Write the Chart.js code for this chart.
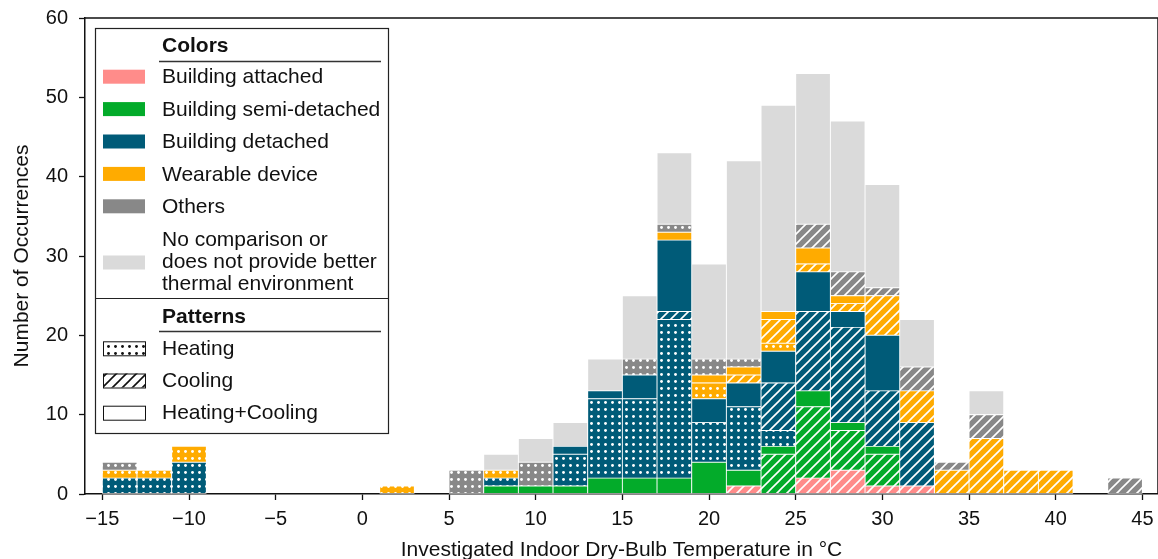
<!DOCTYPE html>
<html>
<head>
<meta charset="utf-8">
<script src="https://cdn.jsdelivr.net/npm/chart.js@4.4.1/dist/chart.umd.min.js"></script>
<style>
  body { margin: 0; background: #fff; }
  canvas { display: block; }
</style>
</head>
<body>
<canvas id="histChart" width="1158" height="559"></canvas>
<script>
// --- DATA: 2 °C bins, from -15 to 45 ---
const binCenters = [-14, -12, -10, -8, -6, -4, -2, 0, 2, 4, 6, 8, 10, 12, 14, 16, 18, 20, 22, 24, 26, 28, 30, 32, 34, 36, 38, 40, 42, 44];
const xTicks = [-15, -10, -5, 0, 5, 10, 15, 20, 25, 30, 35, 40, 45];
const yTicks = [0, 10, 20, 30, 40, 50, 60];

const attachedHeating  = [0,0,0,0,0,0,0,0,0,0, 0,0,0,0,0,0,0,0,0,0, 0,0,0,0,0,0,0,0,0,0];
const attachedCooling  = [0,0,0,0,0,0,0,0,0,0, 0,0,0,0,0,0,0,0,1,0, 2,3,1,1,0,0,0,0,0,0];
const attachedBoth     = [0,0,0,0,0,0,0,0,0,0, 0,0,0,0,0,0,0,0,0,0, 0,0,0,0,0,0,0,0,0,0];
const semiHeating      = [0,0,0,0,0,0,0,0,0,0, 0,0,0,0,0,0,0,0,0,0, 0,0,0,0,0,0,0,0,0,0];
const semiCooling      = [0,0,0,0,0,0,0,0,0,0, 0,0,0,0,0,0,0,0,0,5, 9,5,4,0,0,0,0,0,0,0];
const semiBoth         = [0,0,0,0,0,0,0,0,0,0, 0,1,1,1,2,2,2,4,2,1, 2,1,1,0,0,0,0,0,0,0];
const detachedHeating  = [2,2,4,0,0,0,0,0,0,0, 0,1,0,4,10,10,20,5,8,2, 0,0,0,0,0,0,0,0,0,0];
const detachedCooling  = [0,0,0,0,0,0,0,0,0,0, 0,0,0,0,0,0,1,0,0,6, 10,12,7,8,0,0,0,0,0,0];
const detachedBoth     = [0,0,0,0,0,0,0,0,0,0, 0,0,0,1,1,3,9,3,3,4, 5,2,7,0,0,0,0,0,0,0];
const wearableHeating  = [1,1,2,0,0,0,0,0,1,0, 0,1,0,0,0,0,0,2,0,1, 0,0,0,0,0,0,0,0,0,0];
const wearableCooling  = [0,0,0,0,0,0,0,0,0,0, 0,0,0,0,0,0,0,0,1,3, 1,1,5,4,3,7,3,3,0,0];
const wearableBoth     = [0,0,0,0,0,0,0,0,0,0, 0,0,0,0,0,0,1,1,1,1, 2,1,0,0,0,0,0,0,0,0];
const othersHeating    = [1,0,0,0,0,0,0,0,0,0, 3,0,3,0,0,2,1,2,1,0, 0,0,0,0,0,0,0,0,0,0];
const othersCooling    = [0,0,0,0,0,0,0,0,0,0, 0,0,0,0,0,0,0,0,0,0, 3,3,1,3,1,3,0,0,0,2];
const othersBoth       = [0,0,0,0,0,0,0,0,0,0, 0,0,0,0,0,0,0,0,0,0, 0,0,0,0,0,0,0,0,0,0];
const noComparison     = [0,0,0,0,0,0,0,0,0,0, 0,2,3,3,4,8,9,12,25,26, 19,19,13,6,0,3,0,0,0,0];

const colorNames = ['Building attached', 'Building semi-detached', 'Building detached', 'Wearable device', 'Others'];
const noCompName = ['No comparison or', 'does not provide better', 'thermal environment'];
const patternNames = ['Heating', 'Cooling', 'Heating+Cooling'];

// couleurs
const colorHex = ['#ff8c8a', '#03ab2a', '#005b78', '#ffab00', '#888888'];
const noCompHex = '#dadada';

const FONT = "'Liberation Sans', Arial, sans-serif";
Chart.defaults.font.family = FONT;
Chart.defaults.font.size = 20;
Chart.defaults.color = '#111';

const canvas = document.getElementById('histChart');
const ctx = canvas.getContext('2d');

// tuile de motif : points ou hachures
function makePattern(bg, kind, ink) {
    const s = kind === 'dots' ? 7 : 10;
    const t = document.createElement('canvas');
    t.width = s; t.height = s;
    const g = t.getContext('2d');
    g.fillStyle = bg;
    g.fillRect(0, 0, s, s);
    g.fillStyle = ink;
    g.strokeStyle = ink;
    if (kind === 'dots') {
        g.beginPath();
        g.arc(s / 2, s / 2, 1.45, 0, Math.PI * 2);
        g.fill();
    } else if (kind === 'hatch') {
        g.lineWidth = 1.6;
        g.beginPath();
        g.moveTo(-1, s + 1); g.lineTo(s + 1, -1);
        g.moveTo(-s / 2 - 1, s / 2 + 1); g.lineTo(s / 2 + 1, -s / 2 - 1);
        g.moveTo(s / 2 - 1, s * 1.5 + 1); g.lineTo(s * 1.5 + 1, s / 2 - 1);
        g.stroke();
    }
    return ctx.createPattern(t, 'repeat');
}

const series = [
    [attachedHeating, attachedCooling, attachedBoth],
    [semiHeating, semiCooling, semiBoth],
    [detachedHeating, detachedCooling, detachedBoth],
    [wearableHeating, wearableCooling, wearableBoth],
    [othersHeating, othersCooling, othersBoth]
];
const kinds = ['dots', 'hatch', 'none'];

function toPoints(values) {
    return binCenters.map((c, i) => ({ x: c, y: values[i] || null }));
}

const datasets = [];
series.forEach((group, ci) => {
    group.forEach((values, pi) => {
        datasets.push({
            label: colorNames[ci] + ' - ' + patternNames[pi],
            data: toPoints(values),
            backgroundColor: makePattern(colorHex[ci], kinds[pi], '#ffffff')
        });
    });
});
datasets.push({
    label: noCompName.join(' '),
    data: toPoints(noComparison),
    backgroundColor: noCompHex
});
datasets.forEach(d => {
    d.borderColor = '#ffffff';
    d.borderWidth = 0.8;
    d.borderSkipped = false;
    d.categoryPercentage = 1;
    d.barPercentage = 1;
    d.stack = 'all';
});

const fmtTick = v => v < 0 ? '\u2212' + Math.abs(v) : String(v);

// --- cadre + légende dessinés à la main ---
const legendPlugin = {
    id: 'frameLegend',
    afterDraw(chart) {
        const c = chart.ctx;
        const a = chart.chartArea;
        c.save();
        c.strokeStyle = '#111';
        c.lineWidth = 1.5;
        c.beginPath();
        c.moveTo(a.left, a.top); c.lineTo(a.right, a.top); c.lineTo(a.right, a.bottom);
        c.stroke();

        // boîte
        c.fillStyle = '#fff';
        c.fillRect(95, 28, 293, 405);
        c.strokeStyle = '#222';
        c.lineWidth = 1.2;
        c.strokeRect(95.5, 28.5, 293, 405);
        c.beginPath();
        c.moveTo(95, 298.5); c.lineTo(388, 298.5);
        c.stroke();

        c.textBaseline = 'middle';
        c.textAlign = 'left';
        c.fillStyle = '#111';
        c.font = 'bold 21px ' + FONT;
        c.fillText('Colors', 162, 46);
        c.fillText('Patterns', 162, 317);
        c.strokeStyle = '#333';
        c.lineWidth = 1.3;
        c.beginPath();
        c.moveTo(159, 61.5); c.lineTo(381, 61.5);
        c.moveTo(159, 331.5); c.lineTo(381, 331.5);
        c.stroke();

        c.font = '21px ' + FONT;
        colorNames.forEach((name, i) => {
            const yc = 76.7 + i * 32.4;
            c.fillStyle = colorHex[i];
            c.fillRect(103, yc - 7, 42, 14);
            c.fillStyle = '#111';
            c.fillText(name, 162, yc + 1);
        });
        c.fillStyle = noCompHex;
        c.fillRect(103, 255.5, 42, 14);
        c.fillStyle = '#111';
        noCompName.forEach((line, i) => c.fillText(line, 162, 240 + i * 22.3));

        patternNames.forEach((name, i) => {
            const yc = 348.3 + i * 32.2;
            c.fillStyle = makePattern('#ffffff', kinds[i], '#111');
            c.fillRect(103, yc - 7, 42, 14);
            c.strokeStyle = '#111';
            c.lineWidth = 1;
            c.strokeRect(103.5, yc - 6.5, 42, 14);
            c.fillStyle = '#111';
            c.fillText(name, 162, yc + 1);
        });
        c.restore();
    }
};

new Chart(ctx, {
    type: 'bar',
    data: { datasets: datasets },
    options: {
        responsive: false,
        animation: false,
        devicePixelRatio: 1,
        layout: { padding: { top: 18, right: 0, left: 0, bottom: 0 } },
        plugins: { legend: { display: false }, tooltip: { enabled: false } },
        scales: {
            x: {
                type: 'linear',
                min: -16,
                max: 45.9,
                offset: false,
                stacked: true,
                afterBuildTicks: s => { s.ticks = xTicks.map(v => ({ value: v })); },
                afterFit: s => { s.height = 65; s.paddingLeft = 0; s.paddingRight = 0; },
                ticks: { callback: fmtTick, padding: 7, maxRotation: 0, autoSkip: false, color: '#111' },
                grid: { offset: false, drawOnChartArea: false, tickLength: 6, tickColor: '#111', tickWidth: 1.3 },
                border: { color: '#111', width: 1.5 },
                title: {
                    display: true,
                    text: 'Investigated Indoor Dry-Bulb Temperature in \u00b0C',
                    font: { size: 21 },
                    color: '#111',
                    padding: { top: 0, bottom: -4 }
                }
            },
            y: {
                min: 0,
                max: 60,
                stacked: true,
                afterBuildTicks: s => { s.ticks = yTicks.map(v => ({ value: v })); },
                afterFit: s => { s.width = 85; s.paddingTop = 0; s.paddingBottom = 0; },
                ticks: { padding: 11, color: '#111' },
                grid: { drawOnChartArea: false, tickLength: 6, tickColor: '#111', tickWidth: 1.3 },
                border: { color: '#111', width: 1.5 },
                title: {
                    display: true,
                    text: 'Number of Occurrences',
                    font: { size: 21 },
                    color: '#111',
                    padding: { top: 10, bottom: 0 }
                }
            }
        }
    },
    plugins: [legendPlugin]
});
</script>
</body>
</html>
